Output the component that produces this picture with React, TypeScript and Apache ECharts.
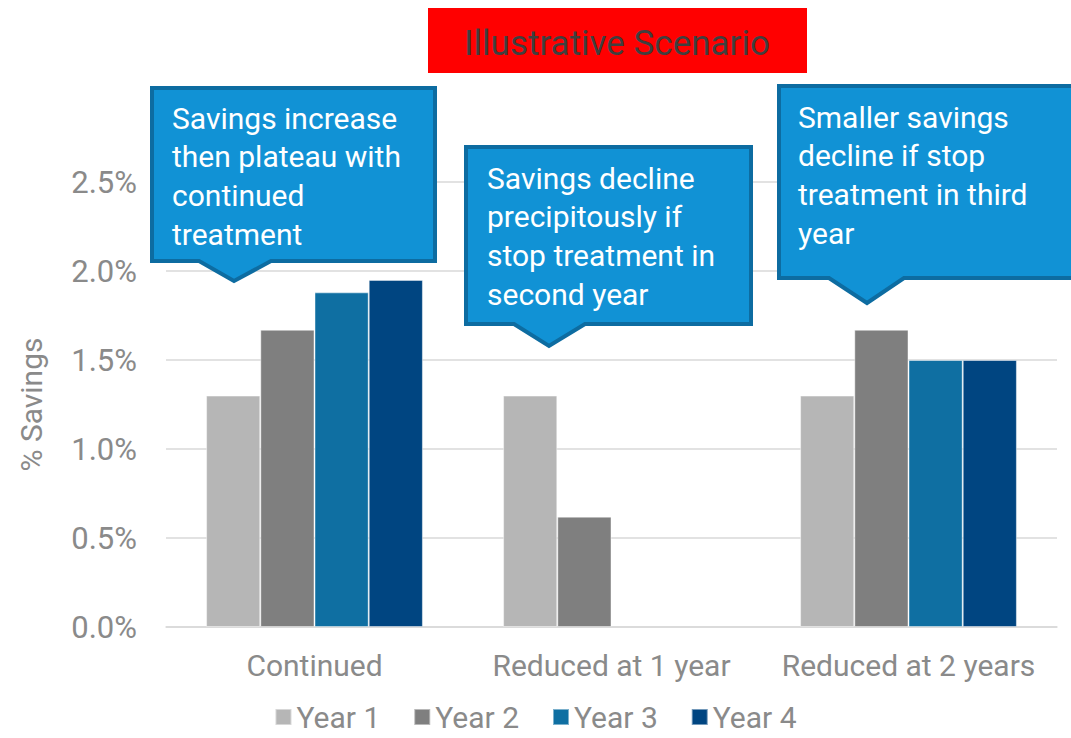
import React, { useEffect, useRef } from "react";
import * as echarts from "echarts";

// Scenario categories and yearly savings (in %)
const categories = ["Continued", "Reduced at 1 year", "Reduced at 2 years"];
const seriesNames = ["Year 1", "Year 2", "Year 3", "Year 4"];
const year1 = [1.3, 1.3, 1.3];
const year2 = [1.67, 0.62, 1.67];
const year3 = [1.88, null, 1.5];
const year4 = [1.95, null, 1.5];
const yTicks = [0, 0.5, 1.0, 1.5, 2.0, 2.5];

const seriesValues = [year1, year2, year3, year4];
const seriesColors = ["#b6b6b6", "#7f7f7f", "#0f6fa2", "#004581"];

const titleText = "Illustrative Scenario";
const callouts = [
  {
    text: "Savings increase\nthen plateau with\ncontinued\ntreatment",
    box: [152, 88, 435, 261],
    pointer: [199, 271, 234, 281],
    textPos: [172, 99],
  },
  {
    text: "Savings decline\nprecipitously if\nstop treatment in\nsecond year",
    box: [466, 147, 751, 324],
    pointer: [514, 585, 549, 346],
    textPos: [487, 159],
  },
  {
    text: "Smaller savings\ndecline if stop\ntreatment in third\nyear",
    box: [779, 86, 1085, 278],
    pointer: [829, 904, 867, 303],
    textPos: [798, 98],
  },
];

const FONT = "Roboto, 'Liberation Sans', sans-serif";

function calloutGraphic(c: typeof callouts[number]) {
  const [x0, y0, x1, y1] = c.box;
  const [pL, pR, tipX, tipY] = c.pointer;
  return [
    {
      type: "polygon",
      z: 100,
      shape: {
        points: [
          [x0, y0],
          [x1, y0],
          [x1, y1],
          [pR, y1],
          [tipX, tipY],
          [pL, y1],
          [x0, y1],
        ],
      },
      style: { fill: "#1192d5", stroke: "#0d6ca1", lineWidth: 4, lineJoin: "miter" },
    },
    {
      type: "text",
      z: 101,
      x: c.textPos[0],
      y: c.textPos[1],
      style: {
        text: c.text,
        fill: "#ffffff",
        font: `30px ${FONT}`,
        lineHeight: 38.6,
        textVerticalAlign: "top",
      },
    },
  ];
}

export default function App() {
  const ref = useRef<HTMLDivElement>(null);

  useEffect(() => {
    if (!ref.current) return;
    const chart = echarts.init(ref.current, null, { renderer: "svg" });
    chart.setOption({
      animation: false,
      backgroundColor: "#ffffff",
      textStyle: { fontFamily: FONT },
      grid: { left: 166, right: 14, top: 182, bottom: 111 },
      legend: {
        data: seriesNames,
        top: 701,
        left: "center",
        padding: 0,
        itemWidth: 16,
        itemHeight: 16,
        itemGap: 33,
        icon: "rect",
        textStyle: { color: "#8a8a8a", fontSize: 30, lineHeight: 32, fontFamily: FONT },
      },
      xAxis: {
        type: "category",
        data: categories,
        axisTick: { show: false },
        axisLine: { lineStyle: { color: "#d9d9d9", width: 1.5 } },
        axisLabel: { color: "#8a8a8a", fontSize: 30, margin: 23, interval: 0, fontFamily: FONT },
      },
      yAxis: {
        type: "value",
        min: yTicks[0],
        max: yTicks[yTicks.length - 1],
        interval: 0.5,
        name: "% Savings",
        nameLocation: "middle",
        nameGap: 120,
        nameTextStyle: { color: "#8a8a8a", fontSize: 30, fontFamily: FONT },
        axisLine: { show: false },
        axisTick: { show: false },
        splitLine: { lineStyle: { color: "#d9d9d9", width: 1.5 } },
        axisLabel: {
          color: "#8a8a8a",
          fontSize: 31,
          margin: 29,
          fontFamily: FONT,
          formatter: (v: number) => `${v.toFixed(1)}%`,
        },
      },
      series: seriesNames.map((name, i) => ({
        name,
        type: "bar",
        data: seriesValues[i],
        barGap: "0%",
        barCategoryGap: "27%",
        itemStyle: {
          color: seriesColors[i],
          borderColor: "rgba(255,255,255,0.45)",
          borderWidth: 1,
        },
      })),
      graphic: [
        {
          type: "rect",
          z: 100,
          shape: { x: 428, y: 8, width: 379, height: 65 },
          style: { fill: "#ff0000" },
        },
        {
          type: "text",
          z: 101,
          x: 617,
          y: 43,
          style: {
            text: titleText,
            fill: "#3f3f3f",
            font: `35px ${FONT}`,
            textAlign: "center",
            textVerticalAlign: "middle",
          },
        },
        ...callouts.flatMap(calloutGraphic),
      ],
    });
    return () => chart.dispose();
  }, []);

  return <div ref={ref} style={{ width: 1071, height: 738, position: "absolute", left: 0, top: 0 }} />;
}
